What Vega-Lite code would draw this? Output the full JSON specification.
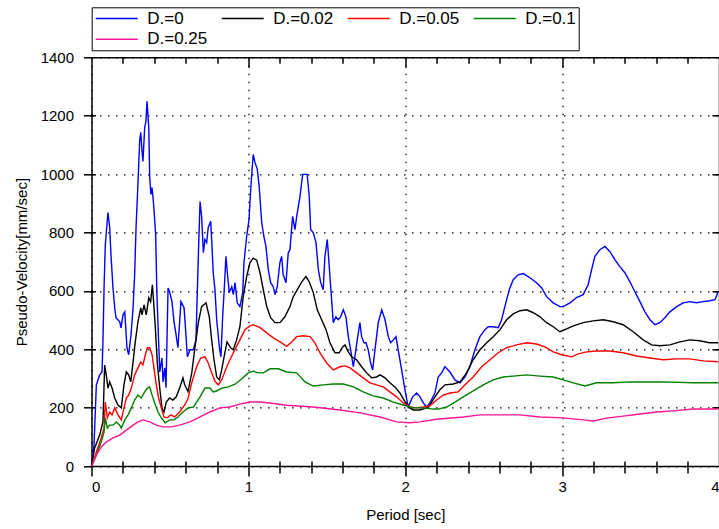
{
  "$schema": "https://vega.github.io/schema/vega-lite/v6.json",
  "width": 627.5,
  "height": 408.7,
  "autosize": {"type": "none"},
  "padding": {"left": 91.5, "top": 57.3, "right": 0, "bottom": 63},
  "background": "white",
  "config": {
    "view": {"stroke": null},
    "font": "Liberation Sans",
    "axis": {"labelFont": "Liberation Sans", "titleFont": "Liberation Sans", "labelColor": "#000", "titleColor": "#000", "tickColor": "#000", "domainColor": "#000", "titleFontWeight": "normal", "tickWidth": 1.5, "domainWidth": 1.5}
  },
  "data": {"values": [
    {"D":"D.=0","T":0,"V":0},{"D":"D.=0","T":0.016,"V":72},{"D":"D.=0","T":0.031,"V":278},{"D":"D.=0","T":0.052,"V":312},{"D":"D.=0","T":0.067,"V":322},{"D":"D.=0","T":0.073,"V":425},{"D":"D.=0","T":0.080,"V":610},{"D":"D.=0","T":0.088,"V":758},{"D":"D.=0","T":0.105,"V":868},{"D":"D.=0","T":0.116,"V":817},{"D":"D.=0","T":0.124,"V":724},{"D":"D.=0","T":0.137,"V":610},{"D":"D.=0","T":0.148,"V":542},{"D":"D.=0","T":0.156,"V":508},{"D":"D.=0","T":0.180,"V":494},{"D":"D.=0","T":0.188,"V":473},{"D":"D.=0","T":0.201,"V":518},{"D":"D.=0","T":0.212,"V":528},{"D":"D.=0","T":0.226,"V":405},{"D":"D.=0","T":0.237,"V":381},{"D":"D.=0","T":0.252,"V":450},{"D":"D.=0","T":0.265,"V":542},{"D":"D.=0","T":0.275,"V":655},{"D":"D.=0","T":0.284,"V":817},{"D":"D.=0","T":0.296,"V":964},{"D":"D.=0","T":0.307,"V":1112},{"D":"D.=0","T":0.314,"V":1143},{"D":"D.=0","T":0.322,"V":1078},{"D":"D.=0","T":0.328,"V":1043},{"D":"D.=0","T":0.339,"V":1160},{"D":"D.=0","T":0.347,"V":1180},{"D":"D.=0","T":0.354,"V":1249},{"D":"D.=0","T":0.365,"V":1160},{"D":"D.=0","T":0.371,"V":988},{"D":"D.=0","T":0.379,"V":930},{"D":"D.=0","T":0.386,"V":954},{"D":"D.=0","T":0.396,"V":896},{"D":"D.=0","T":0.409,"V":793},{"D":"D.=0","T":0.417,"V":587},{"D":"D.=0","T":0.428,"V":425},{"D":"D.=0","T":0.435,"V":322},{"D":"D.=0","T":0.449,"V":370},{"D":"D.=0","T":0.456,"V":288},{"D":"D.=0","T":0.467,"V":336},{"D":"D.=0","T":0.475,"V":268},{"D":"D.=0","T":0.488,"V":610},{"D":"D.=0","T":0.498,"V":597},{"D":"D.=0","T":0.513,"V":563},{"D":"D.=0","T":0.526,"V":494},{"D":"D.=0","T":0.539,"V":450},{"D":"D.=0","T":0.551,"V":405},{"D":"D.=0","T":0.562,"V":494},{"D":"D.=0","T":0.570,"V":563},{"D":"D.=0","T":0.590,"V":542},{"D":"D.=0","T":0.602,"V":450},{"D":"D.=0","T":0.611,"V":374},{"D":"D.=0","T":0.628,"V":398},{"D":"D.=0","T":0.649,"V":398},{"D":"D.=0","T":0.666,"V":432},{"D":"D.=0","T":0.681,"V":718},{"D":"D.=0","T":0.692,"V":906},{"D":"D.=0","T":0.702,"V":855},{"D":"D.=0","T":0.713,"V":731},{"D":"D.=0","T":0.723,"V":776},{"D":"D.=0","T":0.734,"V":765},{"D":"D.=0","T":0.744,"V":817},{"D":"D.=0","T":0.760,"V":838},{"D":"D.=0","T":0.766,"V":776},{"D":"D.=0","T":0.776,"V":662},{"D":"D.=0","T":0.787,"V":604},{"D":"D.=0","T":0.798,"V":501},{"D":"D.=0","T":0.815,"V":408},{"D":"D.=0","T":0.825,"V":374},{"D":"D.=0","T":0.836,"V":511},{"D":"D.=0","T":0.846,"V":604},{"D":"D.=0","T":0.857,"V":718},{"D":"D.=0","T":0.866,"V":662},{"D":"D.=0","T":0.878,"V":594},{"D":"D.=0","T":0.894,"V":614},{"D":"D.=0","T":0.904,"V":587},{"D":"D.=0","T":0.915,"V":628},{"D":"D.=0","T":0.929,"V":559},{"D":"D.=0","T":0.946,"V":546},{"D":"D.=0","T":0.964,"V":594},{"D":"D.=0","T":0.972,"V":697},{"D":"D.=0","T":0.989,"V":786},{"D":"D.=0","T":1.004,"V":844},{"D":"D.=0","T":1.015,"V":947},{"D":"D.=0","T":1.025,"V":1026},{"D":"D.=0","T":1.031,"V":1067},{"D":"D.=0","T":1.042,"V":1040},{"D":"D.=0","T":1.057,"V":1016},{"D":"D.=0","T":1.069,"V":957},{"D":"D.=0","T":1.085,"V":834},{"D":"D.=0","T":1.099,"V":786},{"D":"D.=0","T":1.112,"V":752},{"D":"D.=0","T":1.127,"V":673},{"D":"D.=0","T":1.142,"V":628},{"D":"D.=0","T":1.159,"V":614},{"D":"D.=0","T":1.170,"V":587},{"D":"D.=0","T":1.184,"V":614},{"D":"D.=0","T":1.201,"V":697},{"D":"D.=0","T":1.212,"V":718},{"D":"D.=0","T":1.222,"V":655},{"D":"D.=0","T":1.240,"V":628},{"D":"D.=0","T":1.254,"V":730},{"D":"D.=0","T":1.265,"V":741},{"D":"D.=0","T":1.282,"V":855},{"D":"D.=0","T":1.297,"V":810},{"D":"D.=0","T":1.308,"V":855},{"D":"D.=0","T":1.329,"V":923},{"D":"D.=0","T":1.346,"V":999},{"D":"D.=0","T":1.375,"V":999},{"D":"D.=0","T":1.388,"V":923},{"D":"D.=0","T":1.397,"V":810},{"D":"D.=0","T":1.414,"V":799},{"D":"D.=0","T":1.431,"V":765},{"D":"D.=0","T":1.446,"V":673},{"D":"D.=0","T":1.461,"V":628},{"D":"D.=0","T":1.477,"V":604},{"D":"D.=0","T":1.488,"V":718},{"D":"D.=0","T":1.503,"V":776},{"D":"D.=0","T":1.520,"V":649},{"D":"D.=0","T":1.541,"V":491},{"D":"D.=0","T":1.558,"V":511},{"D":"D.=0","T":1.573,"V":501},{"D":"D.=0","T":1.588,"V":511},{"D":"D.=0","T":1.605,"V":535},{"D":"D.=0","T":1.622,"V":511},{"D":"D.=0","T":1.637,"V":443},{"D":"D.=0","T":1.652,"V":398},{"D":"D.=0","T":1.669,"V":340},{"D":"D.=0","T":1.679,"V":374},{"D":"D.=0","T":1.694,"V":432},{"D":"D.=0","T":1.711,"V":491},{"D":"D.=0","T":1.722,"V":443},{"D":"D.=0","T":1.737,"V":422},{"D":"D.=0","T":1.750,"V":422},{"D":"D.=0","T":1.764,"V":398},{"D":"D.=0","T":1.779,"V":353},{"D":"D.=0","T":1.792,"V":329},{"D":"D.=0","T":1.807,"V":398},{"D":"D.=0","T":1.828,"V":491},{"D":"D.=0","T":1.850,"V":535},{"D":"D.=0","T":1.871,"V":501},{"D":"D.=0","T":1.892,"V":443},{"D":"D.=0","T":1.907,"V":422},{"D":"D.=0","T":1.924,"V":432},{"D":"D.=0","T":1.941,"V":443},{"D":"D.=0","T":1.955,"V":398},{"D":"D.=0","T":1.977,"V":329},{"D":"D.=0","T":1.998,"V":261},{"D":"D.=0","T":2.019,"V":202},{"D":"D.=0","T":2.047,"V":237},{"D":"D.=0","T":2.073,"V":250},{"D":"D.=0","T":2.094,"V":237},{"D":"D.=0","T":2.115,"V":216},{"D":"D.=0","T":2.136,"V":202},{"D":"D.=0","T":2.157,"V":216},{"D":"D.=0","T":2.189,"V":250},{"D":"D.=0","T":2.210,"V":305},{"D":"D.=0","T":2.232,"V":319},{"D":"D.=0","T":2.253,"V":340},{"D":"D.=0","T":2.285,"V":322},{"D":"D.=0","T":2.317,"V":295},{"D":"D.=0","T":2.349,"V":285},{"D":"D.=0","T":2.381,"V":305},{"D":"D.=0","T":2.412,"V":340},{"D":"D.=0","T":2.444,"V":398},{"D":"D.=0","T":2.476,"V":443},{"D":"D.=0","T":2.508,"V":467},{"D":"D.=0","T":2.529,"V":477},{"D":"D.=0","T":2.561,"V":477},{"D":"D.=0","T":2.593,"V":474},{"D":"D.=0","T":2.614,"V":501},{"D":"D.=0","T":2.635,"V":546},{"D":"D.=0","T":2.663,"V":604},{"D":"D.=0","T":2.688,"V":638},{"D":"D.=0","T":2.720,"V":655},{"D":"D.=0","T":2.752,"V":659},{"D":"D.=0","T":2.795,"V":645},{"D":"D.=0","T":2.837,"V":628},{"D":"D.=0","T":2.869,"V":611},{"D":"D.=0","T":2.901,"V":580},{"D":"D.=0","T":2.943,"V":559},{"D":"D.=0","T":2.986,"V":546},{"D":"D.=0","T":3.007,"V":546},{"D":"D.=0","T":3.050,"V":559},{"D":"D.=0","T":3.092,"V":577},{"D":"D.=0","T":3.134,"V":587},{"D":"D.=0","T":3.166,"V":621},{"D":"D.=0","T":3.188,"V":673},{"D":"D.=0","T":3.209,"V":718},{"D":"D.=0","T":3.241,"V":741},{"D":"D.=0","T":3.273,"V":752},{"D":"D.=0","T":3.305,"V":734},{"D":"D.=0","T":3.336,"V":707},{"D":"D.=0","T":3.368,"V":683},{"D":"D.=0","T":3.400,"V":662},{"D":"D.=0","T":3.432,"V":631},{"D":"D.=0","T":3.464,"V":597},{"D":"D.=0","T":3.496,"V":563},{"D":"D.=0","T":3.528,"V":528},{"D":"D.=0","T":3.560,"V":501},{"D":"D.=0","T":3.592,"V":484},{"D":"D.=0","T":3.623,"V":491},{"D":"D.=0","T":3.655,"V":508},{"D":"D.=0","T":3.687,"V":528},{"D":"D.=0","T":3.730,"V":546},{"D":"D.=0","T":3.772,"V":559},{"D":"D.=0","T":3.814,"V":563},{"D":"D.=0","T":3.857,"V":559},{"D":"D.=0","T":3.899,"V":563},{"D":"D.=0","T":3.941,"V":566},{"D":"D.=0","T":3.974,"V":570},{"D":"D.=0","T":3.993,"V":594},

    {"D":"D.=0.02","T":0,"V":0},{"D":"D.=0.02","T":0.020,"V":62},{"D":"D.=0.02","T":0.052,"V":106},{"D":"D.=0.02","T":0.073,"V":151},{"D":"D.=0.02","T":0.084,"V":346},{"D":"D.=0.02","T":0.094,"V":312},{"D":"D.=0.02","T":0.105,"V":267},{"D":"D.=0.02","T":0.116,"V":288},{"D":"D.=0.02","T":0.131,"V":267},{"D":"D.=0.02","T":0.148,"V":233},{"D":"D.=0.02","T":0.169,"V":209},{"D":"D.=0.02","T":0.190,"V":199},{"D":"D.=0.02","T":0.207,"V":278},{"D":"D.=0.02","T":0.222,"V":322},{"D":"D.=0.02","T":0.237,"V":312},{"D":"D.=0.02","T":0.250,"V":288},{"D":"D.=0.02","T":0.265,"V":356},{"D":"D.=0.02","T":0.279,"V":425},{"D":"D.=0.02","T":0.296,"V":494},{"D":"D.=0.02","T":0.314,"V":542},{"D":"D.=0.02","T":0.322,"V":518},{"D":"D.=0.02","T":0.335,"V":552},{"D":"D.=0.02","T":0.349,"V":518},{"D":"D.=0.02","T":0.365,"V":576},{"D":"D.=0.02","T":0.377,"V":563},{"D":"D.=0.02","T":0.388,"V":621},{"D":"D.=0.02","T":0.396,"V":563},{"D":"D.=0.02","T":0.407,"V":474},{"D":"D.=0.02","T":0.419,"V":356},{"D":"D.=0.02","T":0.435,"V":267},{"D":"D.=0.02","T":0.449,"V":199},{"D":"D.=0.02","T":0.462,"V":185},{"D":"D.=0.02","T":0.477,"V":219},{"D":"D.=0.02","T":0.498,"V":233},{"D":"D.=0.02","T":0.519,"V":226},{"D":"D.=0.02","T":0.540,"V":237},{"D":"D.=0.02","T":0.562,"V":267},{"D":"D.=0.02","T":0.583,"V":302},{"D":"D.=0.02","T":0.594,"V":278},{"D":"D.=0.02","T":0.615,"V":255},{"D":"D.=0.02","T":0.639,"V":319},{"D":"D.=0.02","T":0.660,"V":408},{"D":"D.=0.02","T":0.681,"V":491},{"D":"D.=0.02","T":0.702,"V":546},{"D":"D.=0.02","T":0.730,"V":559},{"D":"D.=0.02","T":0.751,"V":511},{"D":"D.=0.02","T":0.766,"V":432},{"D":"D.=0.02","T":0.781,"V":364},{"D":"D.=0.02","T":0.798,"V":305},{"D":"D.=0.02","T":0.815,"V":295},{"D":"D.=0.02","T":0.830,"V":330},{"D":"D.=0.02","T":0.851,"V":390},{"D":"D.=0.02","T":0.864,"V":425},{"D":"D.=0.02","T":0.887,"V":405},{"D":"D.=0.02","T":0.904,"V":398},{"D":"D.=0.02","T":0.925,"V":432},{"D":"D.=0.02","T":0.946,"V":477},{"D":"D.=0.02","T":0.967,"V":580},{"D":"D.=0.02","T":0.989,"V":649},{"D":"D.=0.02","T":1.010,"V":697},{"D":"D.=0.02","T":1.031,"V":712},{"D":"D.=0.02","T":1.053,"V":705},{"D":"D.=0.02","T":1.074,"V":662},{"D":"D.=0.02","T":1.095,"V":604},{"D":"D.=0.02","T":1.117,"V":546},{"D":"D.=0.02","T":1.142,"V":508},{"D":"D.=0.02","T":1.170,"V":491},{"D":"D.=0.02","T":1.201,"V":491},{"D":"D.=0.02","T":1.233,"V":511},{"D":"D.=0.02","T":1.265,"V":546},{"D":"D.=0.02","T":1.286,"V":580},{"D":"D.=0.02","T":1.312,"V":604},{"D":"D.=0.02","T":1.340,"V":631},{"D":"D.=0.02","T":1.367,"V":649},{"D":"D.=0.02","T":1.388,"V":631},{"D":"D.=0.02","T":1.414,"V":594},{"D":"D.=0.02","T":1.439,"V":535},{"D":"D.=0.02","T":1.467,"V":501},{"D":"D.=0.02","T":1.495,"V":467},{"D":"D.=0.02","T":1.520,"V":422},{"D":"D.=0.02","T":1.552,"V":388},{"D":"D.=0.02","T":1.579,"V":388},{"D":"D.=0.02","T":1.601,"V":408},{"D":"D.=0.02","T":1.616,"V":415},{"D":"D.=0.02","T":1.637,"V":391},{"D":"D.=0.02","T":1.658,"V":374},{"D":"D.=0.02","T":1.690,"V":364},{"D":"D.=0.02","T":1.722,"V":340},{"D":"D.=0.02","T":1.754,"V":319},{"D":"D.=0.02","T":1.786,"V":302},{"D":"D.=0.02","T":1.818,"V":305},{"D":"D.=0.02","T":1.839,"V":312},{"D":"D.=0.02","T":1.871,"V":302},{"D":"D.=0.02","T":1.902,"V":285},{"D":"D.=0.02","T":1.934,"V":271},{"D":"D.=0.02","T":1.966,"V":250},{"D":"D.=0.02","T":1.992,"V":226},{"D":"D.=0.02","T":2.019,"V":202},{"D":"D.=0.02","T":2.051,"V":192},{"D":"D.=0.02","T":2.094,"V":192},{"D":"D.=0.02","T":2.136,"V":199},{"D":"D.=0.02","T":2.157,"V":209},{"D":"D.=0.02","T":2.189,"V":237},{"D":"D.=0.02","T":2.221,"V":261},{"D":"D.=0.02","T":2.253,"V":278},{"D":"D.=0.02","T":2.306,"V":281},{"D":"D.=0.02","T":2.349,"V":288},{"D":"D.=0.02","T":2.391,"V":319},{"D":"D.=0.02","T":2.433,"V":364},{"D":"D.=0.02","T":2.476,"V":398},{"D":"D.=0.02","T":2.519,"V":422},{"D":"D.=0.02","T":2.561,"V":443},{"D":"D.=0.02","T":2.604,"V":467},{"D":"D.=0.02","T":2.646,"V":501},{"D":"D.=0.02","T":2.688,"V":521},{"D":"D.=0.02","T":2.731,"V":532},{"D":"D.=0.02","T":2.774,"V":535},{"D":"D.=0.02","T":2.816,"V":525},{"D":"D.=0.02","T":2.859,"V":511},{"D":"D.=0.02","T":2.901,"V":491},{"D":"D.=0.02","T":2.943,"V":477},{"D":"D.=0.02","T":2.986,"V":460},{"D":"D.=0.02","T":3.029,"V":470},{"D":"D.=0.02","T":3.071,"V":480},{"D":"D.=0.02","T":3.134,"V":491},{"D":"D.=0.02","T":3.198,"V":497},{"D":"D.=0.02","T":3.262,"V":501},{"D":"D.=0.02","T":3.326,"V":494},{"D":"D.=0.02","T":3.389,"V":484},{"D":"D.=0.02","T":3.453,"V":460},{"D":"D.=0.02","T":3.517,"V":432},{"D":"D.=0.02","T":3.570,"V":415},{"D":"D.=0.02","T":3.623,"V":412},{"D":"D.=0.02","T":3.687,"V":415},{"D":"D.=0.02","T":3.751,"V":425},{"D":"D.=0.02","T":3.814,"V":432},{"D":"D.=0.02","T":3.876,"V":429},{"D":"D.=0.02","T":3.940,"V":422},{"D":"D.=0.02","T":3.995,"V":422},

    {"D":"D.=0.05","T":0.003,"V":3},{"D":"D.=0.05","T":0.031,"V":48},{"D":"D.=0.05","T":0.062,"V":96},{"D":"D.=0.05","T":0.080,"V":130},{"D":"D.=0.05","T":0.088,"V":219},{"D":"D.=0.05","T":0.101,"V":165},{"D":"D.=0.05","T":0.116,"V":185},{"D":"D.=0.05","T":0.131,"V":175},{"D":"D.=0.05","T":0.148,"V":199},{"D":"D.=0.05","T":0.169,"V":175},{"D":"D.=0.05","T":0.190,"V":158},{"D":"D.=0.05","T":0.207,"V":199},{"D":"D.=0.05","T":0.222,"V":233},{"D":"D.=0.05","T":0.237,"V":243},{"D":"D.=0.05","T":0.254,"V":267},{"D":"D.=0.05","T":0.275,"V":312},{"D":"D.=0.05","T":0.296,"V":336},{"D":"D.=0.05","T":0.314,"V":356},{"D":"D.=0.05","T":0.328,"V":346},{"D":"D.=0.05","T":0.343,"V":381},{"D":"D.=0.05","T":0.356,"V":405},{"D":"D.=0.05","T":0.371,"V":405},{"D":"D.=0.05","T":0.386,"V":381},{"D":"D.=0.05","T":0.398,"V":336},{"D":"D.=0.05","T":0.413,"V":278},{"D":"D.=0.05","T":0.428,"V":233},{"D":"D.=0.05","T":0.445,"V":199},{"D":"D.=0.05","T":0.462,"V":168},{"D":"D.=0.05","T":0.483,"V":165},{"D":"D.=0.05","T":0.505,"V":175},{"D":"D.=0.05","T":0.530,"V":168},{"D":"D.=0.05","T":0.562,"V":185},{"D":"D.=0.05","T":0.594,"V":209},{"D":"D.=0.05","T":0.615,"V":230},{"D":"D.=0.05","T":0.639,"V":285},{"D":"D.=0.05","T":0.670,"V":340},{"D":"D.=0.05","T":0.696,"V":370},{"D":"D.=0.05","T":0.723,"V":374},{"D":"D.=0.05","T":0.744,"V":353},{"D":"D.=0.05","T":0.766,"V":319},{"D":"D.=0.05","T":0.787,"V":290},{"D":"D.=0.05","T":0.808,"V":278},{"D":"D.=0.05","T":0.830,"V":295},{"D":"D.=0.05","T":0.862,"V":340},{"D":"D.=0.05","T":0.904,"V":388},{"D":"D.=0.05","T":0.946,"V":432},{"D":"D.=0.05","T":0.978,"V":467},{"D":"D.=0.05","T":1.010,"V":480},{"D":"D.=0.05","T":1.031,"V":484},{"D":"D.=0.05","T":1.074,"V":474},{"D":"D.=0.05","T":1.117,"V":456},{"D":"D.=0.05","T":1.159,"V":439},{"D":"D.=0.05","T":1.212,"V":422},{"D":"D.=0.05","T":1.244,"V":410},{"D":"D.=0.05","T":1.276,"V":425},{"D":"D.=0.05","T":1.308,"V":443},{"D":"D.=0.05","T":1.350,"V":446},{"D":"D.=0.05","T":1.393,"V":443},{"D":"D.=0.05","T":1.424,"V":422},{"D":"D.=0.05","T":1.456,"V":388},{"D":"D.=0.05","T":1.499,"V":353},{"D":"D.=0.05","T":1.541,"V":329},{"D":"D.=0.05","T":1.584,"V":340},{"D":"D.=0.05","T":1.616,"V":343},{"D":"D.=0.05","T":1.648,"V":336},{"D":"D.=0.05","T":1.690,"V":319},{"D":"D.=0.05","T":1.732,"V":302},{"D":"D.=0.05","T":1.775,"V":285},{"D":"D.=0.05","T":1.818,"V":278},{"D":"D.=0.05","T":1.860,"V":271},{"D":"D.=0.05","T":1.902,"V":254},{"D":"D.=0.05","T":1.945,"V":237},{"D":"D.=0.05","T":1.987,"V":216},{"D":"D.=0.05","T":2.030,"V":202},{"D":"D.=0.05","T":2.073,"V":199},{"D":"D.=0.05","T":2.115,"V":202},{"D":"D.=0.05","T":2.157,"V":206},{"D":"D.=0.05","T":2.200,"V":226},{"D":"D.=0.05","T":2.242,"V":243},{"D":"D.=0.05","T":2.285,"V":250},{"D":"D.=0.05","T":2.338,"V":254},{"D":"D.=0.05","T":2.381,"V":278},{"D":"D.=0.05","T":2.433,"V":305},{"D":"D.=0.05","T":2.487,"V":340},{"D":"D.=0.05","T":2.540,"V":364},{"D":"D.=0.05","T":2.593,"V":388},{"D":"D.=0.05","T":2.646,"V":405},{"D":"D.=0.05","T":2.710,"V":415},{"D":"D.=0.05","T":2.774,"V":422},{"D":"D.=0.05","T":2.837,"V":418},{"D":"D.=0.05","T":2.890,"V":408},{"D":"D.=0.05","T":2.943,"V":391},{"D":"D.=0.05","T":2.997,"V":381},{"D":"D.=0.05","T":3.060,"V":374},{"D":"D.=0.05","T":3.103,"V":384},{"D":"D.=0.05","T":3.156,"V":391},{"D":"D.=0.05","T":3.220,"V":394},{"D":"D.=0.05","T":3.305,"V":394},{"D":"D.=0.05","T":3.389,"V":388},{"D":"D.=0.05","T":3.475,"V":377},{"D":"D.=0.05","T":3.560,"V":370},{"D":"D.=0.05","T":3.644,"V":364},{"D":"D.=0.05","T":3.730,"V":367},{"D":"D.=0.05","T":3.814,"V":367},{"D":"D.=0.05","T":3.899,"V":360},{"D":"D.=0.05","T":3.995,"V":357},

    {"D":"D.=0.1","T":0.003,"V":3},{"D":"D.=0.1","T":0.031,"V":38},{"D":"D.=0.1","T":0.062,"V":82},{"D":"D.=0.1","T":0.080,"V":116},{"D":"D.=0.1","T":0.088,"V":165},{"D":"D.=0.1","T":0.101,"V":130},{"D":"D.=0.1","T":0.116,"V":140},{"D":"D.=0.1","T":0.137,"V":140},{"D":"D.=0.1","T":0.158,"V":151},{"D":"D.=0.1","T":0.180,"V":140},{"D":"D.=0.1","T":0.190,"V":130},{"D":"D.=0.1","T":0.212,"V":158},{"D":"D.=0.1","T":0.233,"V":175},{"D":"D.=0.1","T":0.254,"V":199},{"D":"D.=0.1","T":0.275,"V":226},{"D":"D.=0.1","T":0.296,"V":243},{"D":"D.=0.1","T":0.317,"V":233},{"D":"D.=0.1","T":0.339,"V":254},{"D":"D.=0.1","T":0.356,"V":267},{"D":"D.=0.1","T":0.371,"V":271},{"D":"D.=0.1","T":0.386,"V":243},{"D":"D.=0.1","T":0.403,"V":216},{"D":"D.=0.1","T":0.424,"V":185},{"D":"D.=0.1","T":0.445,"V":165},{"D":"D.=0.1","T":0.470,"V":148},{"D":"D.=0.1","T":0.498,"V":158},{"D":"D.=0.1","T":0.526,"V":158},{"D":"D.=0.1","T":0.551,"V":168},{"D":"D.=0.1","T":0.583,"V":185},{"D":"D.=0.1","T":0.615,"V":199},{"D":"D.=0.1","T":0.649,"V":202},{"D":"D.=0.1","T":0.692,"V":237},{"D":"D.=0.1","T":0.723,"V":267},{"D":"D.=0.1","T":0.755,"V":267},{"D":"D.=0.1","T":0.776,"V":254},{"D":"D.=0.1","T":0.798,"V":257},{"D":"D.=0.1","T":0.830,"V":267},{"D":"D.=0.1","T":0.872,"V":271},{"D":"D.=0.1","T":0.915,"V":280},{"D":"D.=0.1","T":0.957,"V":298},{"D":"D.=0.1","T":0.999,"V":319},{"D":"D.=0.1","T":1.031,"V":325},{"D":"D.=0.1","T":1.063,"V":319},{"D":"D.=0.1","T":1.095,"V":319},{"D":"D.=0.1","T":1.138,"V":333},{"D":"D.=0.1","T":1.191,"V":333},{"D":"D.=0.1","T":1.244,"V":322},{"D":"D.=0.1","T":1.308,"V":319},{"D":"D.=0.1","T":1.361,"V":288},{"D":"D.=0.1","T":1.414,"V":274},{"D":"D.=0.1","T":1.477,"V":278},{"D":"D.=0.1","T":1.541,"V":281},{"D":"D.=0.1","T":1.605,"V":281},{"D":"D.=0.1","T":1.669,"V":271},{"D":"D.=0.1","T":1.732,"V":254},{"D":"D.=0.1","T":1.796,"V":240},{"D":"D.=0.1","T":1.860,"V":233},{"D":"D.=0.1","T":1.924,"V":219},{"D":"D.=0.1","T":1.987,"V":209},{"D":"D.=0.1","T":2.051,"V":199},{"D":"D.=0.1","T":2.115,"V":199},{"D":"D.=0.1","T":2.178,"V":195},{"D":"D.=0.1","T":2.210,"V":195},{"D":"D.=0.1","T":2.264,"V":202},{"D":"D.=0.1","T":2.317,"V":219},{"D":"D.=0.1","T":2.370,"V":237},{"D":"D.=0.1","T":2.433,"V":257},{"D":"D.=0.1","T":2.497,"V":278},{"D":"D.=0.1","T":2.561,"V":295},{"D":"D.=0.1","T":2.625,"V":305},{"D":"D.=0.1","T":2.688,"V":308},{"D":"D.=0.1","T":2.774,"V":312},{"D":"D.=0.1","T":2.859,"V":308},{"D":"D.=0.1","T":2.943,"V":305},{"D":"D.=0.1","T":3.007,"V":295},{"D":"D.=0.1","T":3.071,"V":285},{"D":"D.=0.1","T":3.145,"V":274},{"D":"D.=0.1","T":3.220,"V":285},{"D":"D.=0.1","T":3.326,"V":285},{"D":"D.=0.1","T":3.432,"V":288},{"D":"D.=0.1","T":3.644,"V":288},{"D":"D.=0.1","T":3.836,"V":285},{"D":"D.=0.1","T":3.995,"V":285},

    {"D":"D.=0.25","T":0.003,"V":0},{"D":"D.=0.25","T":0.031,"V":38},{"D":"D.=0.25","T":0.062,"V":65},{"D":"D.=0.25","T":0.094,"V":82},{"D":"D.=0.25","T":0.137,"V":96},{"D":"D.=0.25","T":0.180,"V":106},{"D":"D.=0.25","T":0.222,"V":123},{"D":"D.=0.25","T":0.265,"V":140},{"D":"D.=0.25","T":0.296,"V":151},{"D":"D.=0.25","T":0.328,"V":158},{"D":"D.=0.25","T":0.371,"V":151},{"D":"D.=0.25","T":0.413,"V":140},{"D":"D.=0.25","T":0.456,"V":134},{"D":"D.=0.25","T":0.509,"V":134},{"D":"D.=0.25","T":0.562,"V":140},{"D":"D.=0.25","T":0.628,"V":151},{"D":"D.=0.25","T":0.692,"V":168},{"D":"D.=0.25","T":0.755,"V":185},{"D":"D.=0.25","T":0.819,"V":199},{"D":"D.=0.25","T":0.883,"V":202},{"D":"D.=0.25","T":0.946,"V":212},{"D":"D.=0.25","T":1.010,"V":219},{"D":"D.=0.25","T":1.074,"V":219},{"D":"D.=0.25","T":1.138,"V":216},{"D":"D.=0.25","T":1.244,"V":208},{"D":"D.=0.25","T":1.414,"V":202},{"D":"D.=0.25","T":1.584,"V":192},{"D":"D.=0.25","T":1.711,"V":182},{"D":"D.=0.25","T":1.839,"V":168},{"D":"D.=0.25","T":1.945,"V":151},{"D":"D.=0.25","T":2.030,"V":148},{"D":"D.=0.25","T":2.094,"V":151},{"D":"D.=0.25","T":2.200,"V":160},{"D":"D.=0.25","T":2.370,"V":168},{"D":"D.=0.25","T":2.476,"V":175},{"D":"D.=0.25","T":2.583,"V":175},{"D":"D.=0.25","T":2.731,"V":175},{"D":"D.=0.25","T":2.859,"V":168},{"D":"D.=0.25","T":3.007,"V":165},{"D":"D.=0.25","T":3.134,"V":158},{"D":"D.=0.25","T":3.198,"V":154},{"D":"D.=0.25","T":3.284,"V":164},{"D":"D.=0.25","T":3.389,"V":171},{"D":"D.=0.25","T":3.496,"V":178},{"D":"D.=0.25","T":3.602,"V":185},{"D":"D.=0.25","T":3.708,"V":189},{"D":"D.=0.25","T":3.836,"V":195},{"D":"D.=0.25","T":3.995,"V":195}
  ]},
  "layer": [
    {
      "mark": {"type": "line", "strokeWidth": 1.4},
      "encoding": {
        "x": {"field": "T", "type": "quantitative", "scale": {"domain": [0, 4], "nice": false, "zero": false},
          "axis": {"orient": "bottom", "values": [0, 1, 2, 3, 4], "format": "d", "labelFontSize": 15, "labelPadding": 3.5, "tickSize": 10, "title": "Period [sec]", "titleFontSize": 15, "titlePadding": 13, "grid": true, "gridDash": [1.5, 6.5], "gridColor": "#000", "gridWidth": 1.3}},
        "y": {"field": "V", "type": "quantitative", "scale": {"domain": [0, 1400], "nice": false, "zero": true},
          "axis": {"orient": "left", "values": [0, 200, 400, 600, 800, 1000, 1200, 1400], "format": "d", "labelFontSize": 15, "labelPadding": 10, "tickSize": 8, "title": "Pseudo-Velocity[mm/sec]", "titleFontSize": 15, "titlePadding": 11, "grid": true, "gridDash": [1.5, 6.5], "gridColor": "#000", "gridWidth": 1.3}},
        "color": {"field": "D", "type": "nominal",
          "scale": {"domain": ["D.=0", "D.=0.02", "D.=0.05", "D.=0.1", "D.=0.25"], "range": ["#0000ff", "#000000", "#ff0000", "#008000", "#ff1493"]},
          "legend": {"title": null, "orient": "none", "legendX": 0.2, "legendY": -50, "direction": "horizontal", "columns": 4, "gridAlign": "all", "symbolType": "M-1,0H5", "symbolSize": 196, "symbolStrokeWidth": 1.5, "labelFont": "Liberation Sans", "labelFontSize": 17, "labelColor": "#000", "labelOffset": 36, "columnPadding": 10, "rowPadding": 3, "padding": 2.5, "strokeColor": "#000"}}
      }
    },
    {
      "mark": {"type": "point", "opacity": 0},
      "encoding": {
        "x": {"field": "T", "type": "quantitative", "axis": {"orient": "bottom", "values": [0.2,0.4,0.6,0.8,1.2,1.4,1.6,1.8,2.2,2.4,2.6,2.8,3.2,3.4,3.6,3.8], "labels": false, "domain": false, "grid": false, "title": null, "tickSize": 7, "tickColor": "#000", "tickWidth": 1.5}},
        "y": {"field": "V", "type": "quantitative", "axis": {"orient": "left", "values": [200, 400, 600, 800, 1000, 1200], "labels": false, "domain": false, "grid": false, "title": null, "tickSize": -4, "tickColor": "#000", "tickWidth": 1.5}}
      }
    },
    {
      "mark": {"type": "point", "opacity": 0},
      "encoding": {
        "x": {"field": "T", "type": "quantitative", "axis": {"orient": "bottom", "values": [0.2,0.4,0.6,0.8,1,1.2,1.4,1.6,1.8,2,2.2,2.4,2.6,2.8,3,3.2,3.4,3.6,3.8], "labels": false, "domain": false, "grid": false, "title": null, "tickSize": -5, "tickColor": "#000", "tickWidth": 1.5}},
        "y": {"field": "V", "type": "quantitative", "axis": {"orient": "right", "values": [200, 400, 600, 800, 1000, 1200], "labels": false, "domain": true, "grid": false, "title": null, "tickSize": -7, "tickColor": "#000", "tickWidth": 1.5}}
      }
    },
    {
      "mark": {"type": "point", "opacity": 0},
      "encoding": {
        "x": {"field": "T", "type": "quantitative", "axis": {"orient": "top", "values": [0.2,0.4,0.6,0.8,1.2,1.4,1.6,1.8,2.2,2.4,2.6,2.8,3.2,3.4,3.6,3.8], "labels": false, "domain": true, "grid": false, "title": null, "tickSize": -6, "tickColor": "#000", "tickWidth": 1.5}},
        "y": {"field": "V", "type": "quantitative", "axis": null}
      }
    },
    {
      "mark": {"type": "point", "opacity": 0},
      "encoding": {
        "x": {"field": "T", "type": "quantitative", "axis": {"orient": "top", "values": [1, 2, 3], "labels": false, "domain": false, "grid": false, "title": null, "tickSize": -10, "tickColor": "#000", "tickWidth": 1.5}},
        "y": {"field": "V", "type": "quantitative", "axis": null}
      }
    }
  ],
  "resolve": {"axis": {"x": "independent", "y": "independent"}}
}
